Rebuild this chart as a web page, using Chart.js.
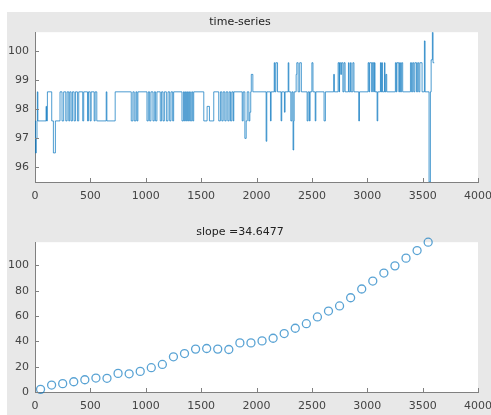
<!DOCTYPE html>
<html>
<head>
<meta charset="utf-8">
<script src="https://cdn.jsdelivr.net/npm/chart.js@4.4.1/dist/chart.umd.min.js"></script>
<style>
  body { margin: 0; background: #fff; overflow: hidden; width: 491px; height: 415px; }
  #fig { position: absolute; left: 7px; top: 12px; width: 484px; height: 403px; background: #e8e8e8; }
  canvas { position: absolute; left: 0; }
</style>
</head>
<body>
<div id="fig"></div>
<canvas id="seriesChart" width="500" height="200" style="top:12px"></canvas>
<canvas id="slopeChart" width="500" height="203" style="top:212px"></canvas>
<script>
// time-series: value holds from each time until the next one
var tsTimes = [0, 4, 12, 18, 21, 26, 100, 104, 112, 151, 166, 184, 226, 244, 259, 278, 290, 305, 314, 326,
  338, 353, 365, 383, 395, 431, 440, 474, 483, 498, 507, 534, 543, 558, 643, 649, 724, 869, 884, 896,
  911, 920, 929, 1011, 1023, 1035, 1047, 1065, 1077, 1089, 1101, 1131, 1143, 1156, 1168, 1186, 1201, 1216, 1228, 1243,
  1252, 1327, 1340, 1349, 1358, 1367, 1376, 1385, 1394, 1403, 1415, 1424, 1433, 1524, 1554, 1575, 1614, 1659, 1674, 1687,
  1699, 1714, 1726, 1741, 1753, 1765, 1777, 1789, 1795, 1871, 1880, 1895, 1907, 1916, 1931, 1940, 1948, 1953, 1967, 2087,
  2093, 2126, 2132, 2160, 2166, 2175, 2190, 2222, 2228, 2252, 2258, 2286, 2292, 2310, 2320, 2330, 2336, 2340, 2358, 2364,
  2376, 2390, 2405, 2457, 2466, 2478, 2484, 2500, 2510, 2530, 2536, 2610, 2622, 2697, 2703, 2737, 2746, 2750, 2760, 2768,
  2780, 2790, 2800, 2830, 2836, 2848, 2855, 2870, 2880, 2923, 2930, 3008, 3016, 3022, 3040, 3046, 3058, 3064, 3070, 3089,
  3095, 3119, 3125, 3131, 3137, 3155, 3160, 3168, 3176, 3254, 3262, 3268, 3285, 3292, 3300, 3310, 3320, 3390, 3400, 3410,
  3420, 3430, 3445, 3455, 3465, 3475, 3495, 3516, 3522, 3558, 3570, 3577, 3588, 3594, 3605];
var tsValues = [97.6, 96.5, 97.0, 97.6, 98.6, 97.6, 98.1, 97.6, 98.6, 97.6, 96.5, 97.6, 98.6, 97.6, 98.6, 97.6, 98.6, 97.6, 98.6, 97.6,
  98.6, 97.6, 98.6, 97.6, 98.6, 97.6, 98.6, 97.6, 98.6, 97.6, 98.6, 97.6, 98.6, 97.6, 98.6, 97.6, 98.6, 97.6, 98.6, 97.6,
  98.6, 97.6, 98.6, 97.6, 98.6, 97.6, 98.6, 97.6, 98.6, 97.6, 98.6, 97.6, 98.6, 97.6, 98.6, 97.6, 98.6, 97.6, 98.6, 97.6,
  98.6, 97.6, 98.6, 97.6, 98.6, 97.6, 98.6, 97.6, 98.6, 97.6, 98.6, 97.6, 98.6, 97.6, 98.1, 97.6, 98.6, 97.6, 98.6, 97.6,
  98.6, 97.6, 98.6, 97.6, 98.6, 97.6, 98.6, 97.6, 98.6, 97.6, 98.6, 97.0, 97.6, 98.6, 97.6, 97.9, 98.6, 99.2, 98.6, 96.9,
  98.6, 97.6, 98.6, 99.6, 98.6, 99.6, 98.6, 97.6, 98.6, 97.9, 98.6, 99.6, 98.6, 97.6, 98.6, 96.6, 97.6, 98.6, 99.2, 99.6,
  98.6, 99.6, 98.6, 97.6, 98.6, 97.6, 98.6, 99.6, 98.6, 97.6, 98.6, 97.6, 98.6, 99.2, 98.6, 99.6, 98.6, 99.6, 99.2, 99.6,
  98.6, 99.6, 98.6, 99.6, 98.6, 99.6, 98.6, 99.6, 98.6, 97.6, 98.6, 99.6, 98.6, 99.6, 98.6, 99.6, 98.6, 99.6, 98.6, 97.6,
  98.6, 99.6, 98.6, 99.6, 98.6, 99.6, 98.6, 99.2, 98.6, 99.6, 98.6, 99.6, 98.6, 99.6, 98.6, 99.6, 98.6, 99.6, 98.6, 99.6,
  98.6, 99.6, 98.6, 99.6, 98.6, 99.6, 98.6, 100.35, 98.6, 95.5, 98.6, 99.7, 100.65, 99.6, 99.6];

// slope panel
var slopeX = [50, 150, 250, 350, 450, 550, 650, 750, 850, 950, 1050, 1150, 1250, 1350, 1450, 1550, 1650, 1750,
  1850, 1950, 2050, 2150, 2250, 2350, 2450, 2550, 2650, 2750, 2850, 2950, 3050, 3150, 3250, 3350, 3450, 3550];
var slopeY = [2.1, 5.5, 6.6, 8.1, 9.7, 11, 10.8, 14.7, 14.4, 16.3, 19.2, 21.8, 27.8, 30.4, 33.9, 34.4, 33.9, 33.6,
  38.8, 38.8, 40.4, 42.5, 46.2, 50.4, 54, 59.3, 64, 68, 74.5, 81.4, 87.7, 94, 99.7, 105.8, 111.8, 118.4];

var xTicks = [0, 500, 1000, 1500, 2000, 2500, 3000, 3500, 4000];
var yTicksSeries = [96, 97, 98, 99, 100];
var yTicksSlope = [0, 20, 40, 60, 80, 100];

var axisColor = '#808080';
var textColor = '#444';
var font = { family: 'DejaVu Sans', size: 11, weight: 'normal' };

// white plot box and inward tick marks, like the original figure
var boxPlugin = {
  id: 'box',
  beforeDraw: function (chart) {
    var a = chart.chartArea, ctx = chart.ctx;
    ctx.save();
    ctx.fillStyle = '#fff';
    ctx.fillRect(a.left, a.top, a.right - a.left, a.bottom - a.top);
    ctx.restore();
  },
  afterDraw: function (chart) {
    var a = chart.chartArea, ctx = chart.ctx;
    ctx.save();
    ctx.strokeStyle = axisColor;
    ctx.lineWidth = 1;
    ctx.beginPath();
    chart.scales.x.ticks.forEach(function (t) {
      var px = Math.round(chart.scales.x.getPixelForValue(t.value)) + 0.5;
      ctx.moveTo(px, a.bottom);
      ctx.lineTo(px, a.bottom - 4);
    });
    chart.scales.y.ticks.forEach(function (t) {
      var py = Math.round(chart.scales.y.getPixelForValue(t.value)) + 0.5;
      ctx.moveTo(a.left, py);
      ctx.lineTo(a.left + 4, py);
    });
    ctx.stroke();
    ctx.restore();
  }
};

function plain(v) { return String(v); }

function axes(yMin, yMax, yTicks, xHeight) {
  return {
    x: {
      type: 'linear', min: 0, max: 4000,
      afterBuildTicks: function (s) { s.ticks = xTicks.map(function (v) { return { value: v }; }); },
      afterFit: function (s) { s.height = xHeight; },
      grid: { display: false, drawTicks: false },
      border: { color: axisColor, width: 1 },
      ticks: { color: textColor, font: font, padding: 8, maxRotation: 0, callback: plain }
    },
    y: {
      type: 'linear', min: yMin, max: yMax,
      afterBuildTicks: function (s) { s.ticks = yTicks.map(function (v) { return { value: v }; }); },
      afterFit: function (s) { s.width = 35; },
      grid: { display: false, drawTicks: false },
      border: { color: axisColor, width: 1 },
      ticks: { color: textColor, font: font, padding: 6, callback: plain }
    }
  };
}

var seriesPoints = tsTimes.map(function (t, i) { return { x: t, y: tsValues[i] }; });

new Chart(document.getElementById('seriesChart'), {
  type: 'line',
  data: {
    datasets: [{
      data: seriesPoints,
      borderColor: 'rgba(0, 114, 189, 0.7)',
      borderWidth: 1,
      pointRadius: 0,
      stepped: true,
      fill: false
    }]
  },
  options: {
    responsive: false,
    animation: false,
    layout: { padding: { left: 0, right: 20, top: 0, bottom: 0 } },
    plugins: {
      legend: { display: false },
      tooltip: { enabled: false },
      title: { display: true, text: 'time-series', color: '#222', font: font, padding: { top: 4, bottom: 3 } }
    },
    scales: axes(95.5, 100.65, yTicksSeries, 30)
  },
  plugins: [boxPlugin]
});

var slopePoints = slopeX.map(function (x, i) { return { x: x, y: slopeY[i] }; });

new Chart(document.getElementById('slopeChart'), {
  type: 'scatter',
  data: {
    datasets: [{
      data: slopePoints,
      borderColor: 'rgba(0, 114, 189, 0.65)',
      backgroundColor: 'rgba(0,0,0,0)',
      borderWidth: 1.3,
      pointRadius: 4,
      pointStyle: 'circle',
      clip: 10
    }]
  },
  options: {
    responsive: false,
    animation: false,
    layout: { padding: { left: 0, right: 20, top: 0, bottom: 0 } },
    plugins: {
      legend: { display: false },
      tooltip: { enabled: false },
      title: { display: true, text: 'slope =34.6477', color: '#222', font: font, padding: { top: 14, bottom: 3 } }
    },
    scales: axes(0, 118.4, yTicksSlope, 23)
  },
  plugins: [boxPlugin]
});
</script>
</body>
</html>
